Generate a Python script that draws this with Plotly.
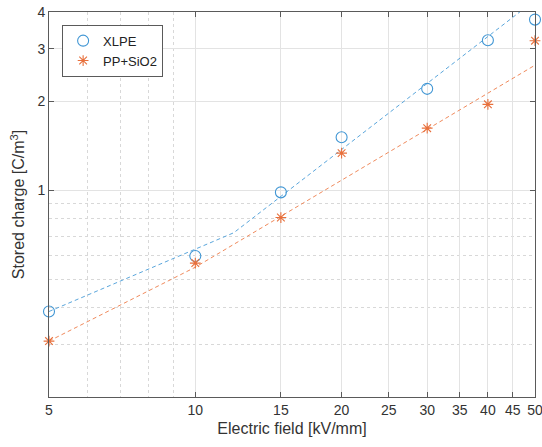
import math
import plotly.graph_objects as go

# Data
field = [5, 10, 15, 20, 30, 40, 50]
xlpe = [0.389, 0.599, 0.983, 1.51, 2.20, 3.21, 3.77]
pp_sio2 = [0.309, 0.567, 0.808, 1.334, 1.62, 1.95, 3.20]

xlpe_fit_x = [5, 12, 50]
xlpe_fit_y = [0.389, 0.718, 4.385]
pp_fit_x = [5, 10, 50]
pp_fit_y = [0.309, 0.549, 2.645]

x_ticks = [5, 10, 15, 20, 25, 30, 35, 40, 45, 50]
x_minor = [6, 7, 8, 9]
y_ticks = [1, 2, 3, 4]
y_minor = [0.3, 0.4, 0.5, 0.6, 0.7, 0.8, 0.9]

blue = "#4096d4"
orange = "#e8703c"
blue_line = "#5aa6dc"
orange_line = "#f08a5c"

fig = go.Figure()
fig.add_trace(go.Scatter(x=xlpe_fit_x, y=xlpe_fit_y, mode="lines",
                         line=dict(color=blue_line, width=1, dash="4px,3px"),
                         showlegend=False, hoverinfo="skip"))
fig.add_trace(go.Scatter(x=pp_fit_x, y=pp_fit_y, mode="lines",
                         line=dict(color=orange_line, width=1, dash="4px,3px"),
                         showlegend=False, hoverinfo="skip"))
fig.add_trace(go.Scatter(x=field, y=xlpe, mode="markers", name="XLPE",
                         cliponaxis=False,
                         marker=dict(symbol="circle-open", size=11,
                                     color=blue, line=dict(width=1.1, color=blue))))
fig.add_trace(go.Scatter(x=field, y=pp_sio2, mode="markers", name="PP+SiO2",
                         cliponaxis=False,
                         marker=dict(symbol="asterisk-open", size=9,
                                     color=orange, line=dict(width=1.1, color=orange))))

axis_common = dict(
    type="log",
    automargin=False,
    ticklabeloverflow="allow",
    showline=True, linecolor="#5a5a5a", linewidth=1, mirror="ticks",
    ticks="inside", ticklen=5, tickcolor="#5a5a5a",
    showgrid=True, gridcolor="#e3e3e3", gridwidth=1,
    zeroline=False,
    tickfont=dict(family="Liberation Sans, Arial", size=14, color="#333333"),
)

fig.update_xaxes(
    **axis_common,
    range=[math.log10(5) - 1e-5, math.log10(50) + 1e-5],
    tickmode="array", tickvals=x_ticks, ticktext=[str(v) for v in x_ticks],
    minor=dict(tickmode="array", tickvals=x_minor, showgrid=True,
               gridcolor="#d8d8d8", griddash="dot", ticks=""),
    title=dict(text="Electric field [kV/mm]", standoff=6,
               font=dict(family="Liberation Sans, Arial", size=16, color="#333333")),
)
fig.update_yaxes(
    **axis_common,
    range=[math.log10(0.2), math.log10(4) + 1e-5],
    tickmode="array", tickvals=y_ticks, ticktext=[str(v) for v in y_ticks],
    minor=dict(tickmode="array", tickvals=y_minor, showgrid=True,
               gridcolor="#d8d8d8", griddash="dot", ticks=""),
    title=dict(text="Stored charge [C/m<sup>3</sup>]", standoff=8,
               font=dict(family="Liberation Sans, Arial", size=16, color="#333333")),
)

fig.update_layout(
    width=542, height=447,
    margin=dict(l=49, r=7, t=12, b=50),
    plot_bgcolor="white", paper_bgcolor="white",
    font=dict(family="Liberation Sans, Arial", size=13, color="#333333"),
    legend=dict(x=0.027, y=0.967, xanchor="left", yanchor="top",
                bgcolor="white", bordercolor="#5a5a5a", borderwidth=1,
                font=dict(family="Liberation Sans, Arial", size=13, color="#222222"),
                itemwidth=30, tracegroupgap=0),
)

fig.write_html(
    "out.html",
    config={"displayModeBar": False},
    post_script=(
        "document.documentElement.style.overflow='hidden';"
        "document.body.style.overflow='hidden';"
        "document.body.style.margin='0';document.body.style.padding='0';"
    ),
)
